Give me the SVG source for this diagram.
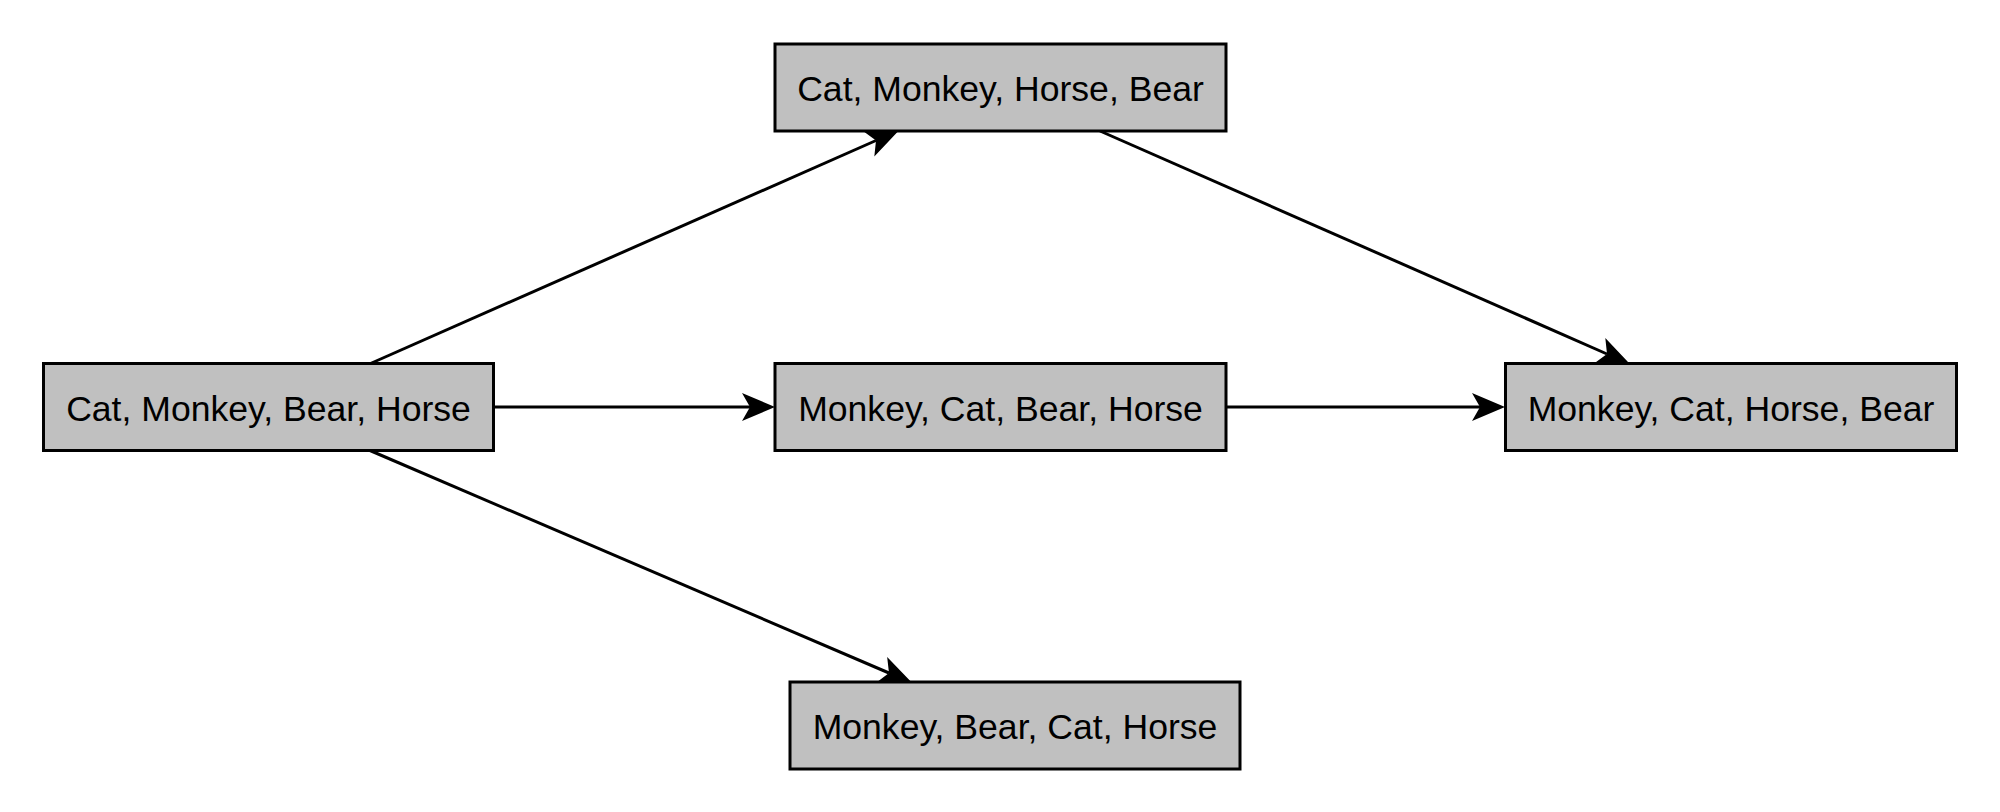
<svg xmlns="http://www.w3.org/2000/svg" width="2000" height="812" viewBox="0 0 2000 812">
<style>
.node rect{fill:#c0c0c0;stroke:#000;stroke-width:3}
.node text{font-family:"Liberation Sans",Arial,sans-serif;font-size:35.6px;text-anchor:middle;fill:#000}
.edge{stroke:#000;stroke-width:3;fill:none;marker-end:url(#arr)}
</style>
<defs>
<marker id="arr" markerUnits="userSpaceOnUse" markerWidth="40" markerHeight="32" viewBox="0 -16 36 32" refX="8" refY="0" orient="auto">
<path d="M0,-14 L33,0 L0,14 L8,0 Z" fill="#000"/>
</marker>
</defs>
<rect width="2000" height="812" fill="#fff"/>
<g id="connectors">
<line class="edge" x1="494" y1="407" x2="750" y2="407"/>
<line class="edge" x1="1226" y1="407" x2="1480" y2="407"/>
<line class="edge" x1="370.5" y1="363.5" x2="876" y2="140.5"/>
<line class="edge" x1="1100" y1="131" x2="1607" y2="354"/>
<line class="edge" x1="370" y1="450.5" x2="889" y2="673"/>
</g>
<g id="n1" class="node"><rect x="43.5" y="363.5" width="450" height="87"/><text x="268.5" y="420.5">Cat, Monkey, Bear, Horse</text></g>
<g id="n2" class="node"><rect x="775" y="44" width="451" height="87"/><text x="1000.5" y="101">Cat, Monkey, Horse, Bear</text></g>
<g id="n3" class="node"><rect x="775" y="363.5" width="451" height="87"/><text x="1000.5" y="420.5">Monkey, Cat, Bear, Horse</text></g>
<g id="n4" class="node"><rect x="1505.5" y="363.5" width="451" height="87"/><text x="1731" y="420.5">Monkey, Cat, Horse, Bear</text></g>
<g id="n5" class="node"><rect x="790" y="682" width="450" height="87"/><text x="1015" y="739">Monkey, Bear, Cat, Horse</text></g>
</svg>
